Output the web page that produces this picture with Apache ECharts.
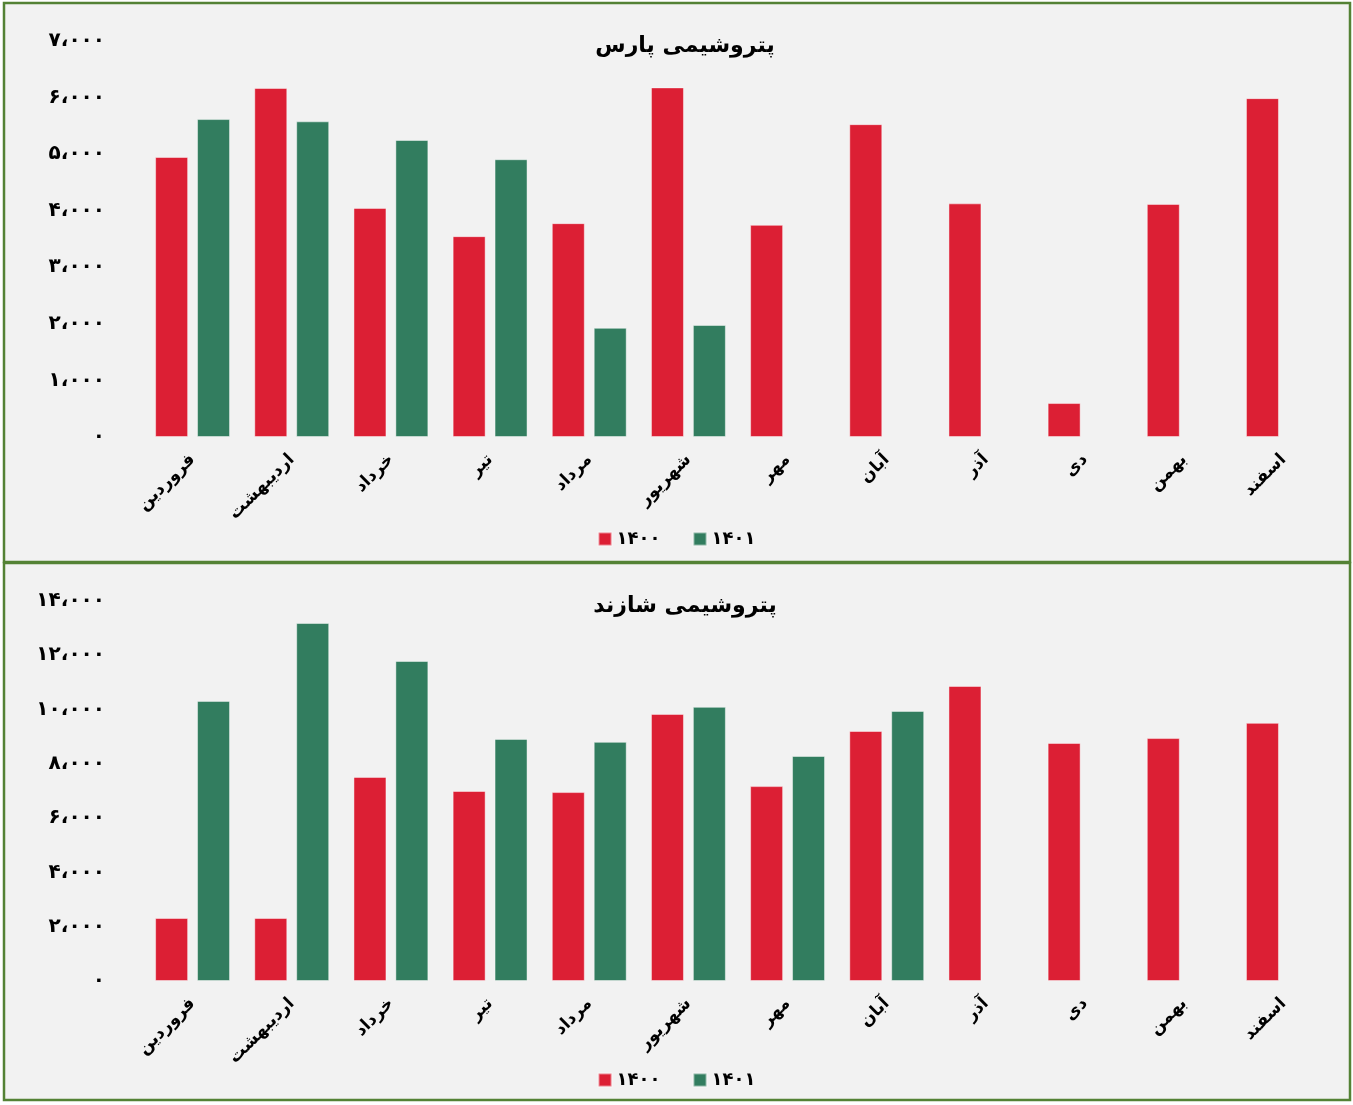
<!DOCTYPE html>
<html><head><meta charset="utf-8">
<script src="https://cdn.jsdelivr.net/npm/echarts@6/dist/echarts.min.js"></script>
<style>html,body{margin:0;padding:0;background:#fff;}#c{width:1353px;height:1105px;}</style>
</head><body><div id="c"></div>
<script>
const months = ['فروردین','اردیبهشت','خرداد','تیر','مرداد','شهریور','مهر','آبان','آذر','دی','بهمن','اسفند'];
const seriesNames = ['۱۴۰۰','۱۴۰۱'];
const titles = ['پتروشیمی پارس','پتروشیمی شازند'];
const pars1400 = [4950, 6170, 4050, 3550, 3780, 6180, 3750, 5530, 4130, 600, 4120, 5990];
const pars1401 = [5620, 5580, 5250, 4910, 1930, 1980, null, null, null, null, null, null];
const shazand1400 = [2320, 2320, 7520, 7000, 6960, 9840, 7180, 9210, 10870, 8770, 8950, 9510];
const shazand1401 = [10320, 13190, 11790, 8920, 8810, 10100, 8290, 9950, null, null, null, null];
const parsTicks = [0, 1000, 2000, 3000, 4000, 5000, 6000, 7000];
const shazandTicks = [0, 2000, 4000, 6000, 8000, 10000, 12000, 14000];
const faDigits = ['۰','۱','۲','۳','۴','۵','۶','۷','۸','۹'];

function fa(v){
  const s = String(Math.round(v)).replace(/\B(?=(\d{3})+(?!\d))/g, '،');
  return s.replace(/\d/g, d => faDigits[+d]);
}
const RED = '#dc1f34', GREEN = '#327d5f';
const FONT = 'DejaVu Sans';
const chart = echarts.init(document.getElementById('c'), null, {renderer:'canvas'});

function xAxis(gi){
  return {type:'category', gridIndex:gi, data:months,
    axisLine:{show:false}, axisTick:{show:false},
    axisLabel:{rotate:45, color:'#000', fontFamily:FONT, fontWeight:'bold', fontSize:17, margin:20, interval:0}};
}
function yAxis(gi, ticks){
  return {type:'value', gridIndex:gi, min:ticks[0], max:ticks[ticks.length-1], interval:ticks[1]-ticks[0],
    splitLine:{show:false}, axisLine:{show:false}, axisTick:{show:false},
    axisLabel:{color:'#000', fontFamily:FONT, fontWeight:'bold', fontSize:20, margin:38, formatter:fa}};
}
function bar(name, data, gi, color){
  return {name:name, type:'bar', xAxisIndex:gi, yAxisIndex:gi, data:data, barWidth:33, barGap:'27%',
    itemStyle:{color:color, borderColor:'rgba(255,255,255,0.45)', borderWidth:1}};
}
function legend(top){
  return {top:top, left:'center', itemWidth:13, itemHeight:13, itemGap:32, icon:'rect',
    data:seriesNames, textStyle:{fontFamily:FONT, fontWeight:'bold', fontSize:18, color:'#000'}};
}
chart.setOption({
  animation:false,
  backgroundColor:'#ffffff',
  graphic:[
    {type:'rect', shape:{x:4, y:3, width:1346, height:559}, style:{fill:'#f2f2f2', stroke:'#548235', lineWidth:2.5}, z:-10},
    {type:'rect', shape:{x:4, y:563, width:1346, height:537}, style:{fill:'#f2f2f2', stroke:'#548235', lineWidth:2.5}, z:-10}
  ],
  title:[
    {text:titles[0], left:680, top:30, textAlign:'center', textStyle:{fontFamily:FONT, fontWeight:'bold', fontSize:22, color:'#000'}},
    {text:titles[1], left:680, top:590, textAlign:'center', textStyle:{fontFamily:FONT, fontWeight:'bold', fontSize:22, color:'#000'}}
  ],
  legend:[legend(525), legend(1066)],
  grid:[
    {left:143, right:20, top:41, height:396},
    {left:143, right:20, top:601, height:380}
  ],
  xAxis:[xAxis(0), xAxis(1)],
  yAxis:[yAxis(0, parsTicks), yAxis(1, shazandTicks)],
  series:[
    bar(seriesNames[0], pars1400, 0, RED),
    bar(seriesNames[1], pars1401, 0, GREEN),
    bar(seriesNames[0], shazand1400, 1, RED),
    bar(seriesNames[1], shazand1401, 1, GREEN)
  ]
});
</script></body></html>
